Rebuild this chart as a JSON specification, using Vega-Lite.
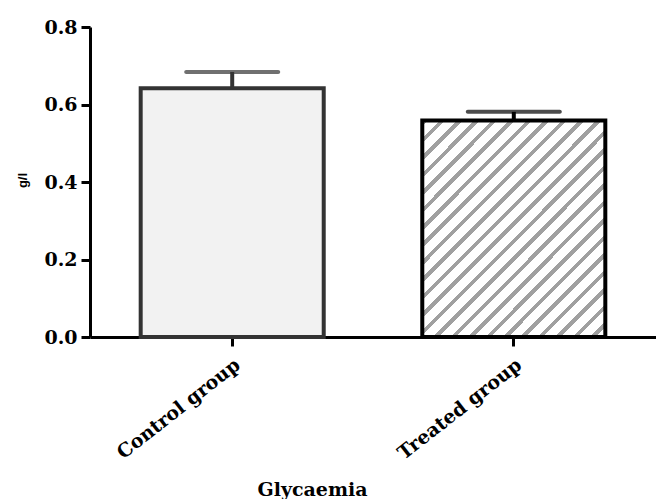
{
  "$schema": "https://vega.github.io/schema/vega-lite/v6.json",
  "width": 566,
  "height": 310,
  "autosize": "none",
  "padding": {"left": 90, "top": 27, "right": 0, "bottom": 162},
  "background": "#ffffff",
  "config": {"view": {"stroke": null}},
  "data": {
    "values": [
      {"group": "Control group", "mean": 0.642, "upper": 0.684},
      {"group": "Treated group", "mean": 0.559, "upper": 0.581}
    ]
  },
  "encoding": {
    "x": {
      "field": "group",
      "type": "nominal",
      "title": "Glycaemia",
      "scale": {"paddingInner": 0.35, "paddingOuter": 0.18},
      "axis": {
        "labelAngle": -38,
        "labelFont": "DejaVu Serif",
        "labelFontWeight": "bold",
        "labelFontSize": 19,
        "labelColor": "#000000",
        "labelPadding": 9,
        "domainColor": "#000000",
        "domainWidth": 3,
        "tickColor": "#000000",
        "tickWidth": 3,
        "tickSize": 9,
        "titleFont": "DejaVu Serif",
        "titleFontSize": 19,
        "titleFontWeight": "bold",
        "titleColor": "#000000",
        "titleX": 222,
        "titleY": 158,
        "titleAlign": "center",
        "titleBaseline": "alphabetic"
      }
    }
  },
  "layer": [
    {
      "transform": [{"filter": "datum.group === 'Control group'"}],
      "mark": {"type": "bar", "fill": "#f2f2f2", "stroke": "#333333", "strokeWidth": 4},
      "encoding": {
        "y": {
          "field": "mean",
          "type": "quantitative",
          "title": "g/l",
          "scale": {"domain": [0, 0.8], "nice": false, "zero": true},
          "axis": {
            "values": [0, 0.2, 0.4, 0.6, 0.8],
            "format": ".1f",
            "grid": false,
            "labelFlush": false,
            "labelOverlap": false,
            "domainColor": "#000000",
            "domainWidth": 3,
            "tickColor": "#000000",
            "tickWidth": 3,
            "tickSize": 9,
            "labelFont": "DejaVu Serif",
            "labelFontWeight": "bold",
            "labelFontSize": 19,
            "labelColor": "#000000",
            "labelPadding": 4,
            "titleFont": "Liberation Sans",
            "titleFontSize": 13,
            "titleFontWeight": "bold",
            "titleColor": "#000000",
            "titleAngle": -90,
            "titleX": -68,
            "titleY": 153,
            "titleAlign": "center",
            "titleBaseline": "middle"
          }
        }
      }
    },
    {
      "transform": [{"filter": "datum.group === 'Treated group'"}],
      "mark": {
        "type": "bar",
        "stroke": "#000000",
        "strokeWidth": 4,
        "fill": {
          "gradient": "linear",
          "x1": 0, "y1": 0, "x2": 0.915, "y2": 1.08,
          "stops": [
            {"offset": 0.0000, "color": "#a0a0a0"}, {"offset": 0.0139, "color": "#a0a0a0"}, {"offset": 0.0139, "color": "#ffffff"}, {"offset": 0.0435, "color": "#ffffff"},
            {"offset": 0.0435, "color": "#a0a0a0"}, {"offset": 0.0574, "color": "#a0a0a0"}, {"offset": 0.0574, "color": "#ffffff"}, {"offset": 0.0870, "color": "#ffffff"},
            {"offset": 0.0870, "color": "#a0a0a0"}, {"offset": 0.1009, "color": "#a0a0a0"}, {"offset": 0.1009, "color": "#ffffff"}, {"offset": 0.1304, "color": "#ffffff"},
            {"offset": 0.1304, "color": "#a0a0a0"}, {"offset": 0.1443, "color": "#a0a0a0"}, {"offset": 0.1443, "color": "#ffffff"}, {"offset": 0.1739, "color": "#ffffff"},
            {"offset": 0.1739, "color": "#a0a0a0"}, {"offset": 0.1878, "color": "#a0a0a0"}, {"offset": 0.1878, "color": "#ffffff"}, {"offset": 0.2174, "color": "#ffffff"},
            {"offset": 0.2174, "color": "#a0a0a0"}, {"offset": 0.2313, "color": "#a0a0a0"}, {"offset": 0.2313, "color": "#ffffff"}, {"offset": 0.2609, "color": "#ffffff"},
            {"offset": 0.2609, "color": "#a0a0a0"}, {"offset": 0.2748, "color": "#a0a0a0"}, {"offset": 0.2748, "color": "#ffffff"}, {"offset": 0.3043, "color": "#ffffff"},
            {"offset": 0.3043, "color": "#a0a0a0"}, {"offset": 0.3182, "color": "#a0a0a0"}, {"offset": 0.3182, "color": "#ffffff"}, {"offset": 0.3478, "color": "#ffffff"},
            {"offset": 0.3478, "color": "#a0a0a0"}, {"offset": 0.3617, "color": "#a0a0a0"}, {"offset": 0.3617, "color": "#ffffff"}, {"offset": 0.3913, "color": "#ffffff"},
            {"offset": 0.3913, "color": "#a0a0a0"}, {"offset": 0.4052, "color": "#a0a0a0"}, {"offset": 0.4052, "color": "#ffffff"}, {"offset": 0.4348, "color": "#ffffff"},
            {"offset": 0.4348, "color": "#a0a0a0"}, {"offset": 0.4487, "color": "#a0a0a0"}, {"offset": 0.4487, "color": "#ffffff"}, {"offset": 0.4783, "color": "#ffffff"},
            {"offset": 0.4783, "color": "#a0a0a0"}, {"offset": 0.4922, "color": "#a0a0a0"}, {"offset": 0.4922, "color": "#ffffff"}, {"offset": 0.5217, "color": "#ffffff"},
            {"offset": 0.5217, "color": "#a0a0a0"}, {"offset": 0.5356, "color": "#a0a0a0"}, {"offset": 0.5356, "color": "#ffffff"}, {"offset": 0.5652, "color": "#ffffff"},
            {"offset": 0.5652, "color": "#a0a0a0"}, {"offset": 0.5791, "color": "#a0a0a0"}, {"offset": 0.5791, "color": "#ffffff"}, {"offset": 0.6087, "color": "#ffffff"},
            {"offset": 0.6087, "color": "#a0a0a0"}, {"offset": 0.6226, "color": "#a0a0a0"}, {"offset": 0.6226, "color": "#ffffff"}, {"offset": 0.6522, "color": "#ffffff"},
            {"offset": 0.6522, "color": "#a0a0a0"}, {"offset": 0.6661, "color": "#a0a0a0"}, {"offset": 0.6661, "color": "#ffffff"}, {"offset": 0.6957, "color": "#ffffff"},
            {"offset": 0.6957, "color": "#a0a0a0"}, {"offset": 0.7096, "color": "#a0a0a0"}, {"offset": 0.7096, "color": "#ffffff"}, {"offset": 0.7391, "color": "#ffffff"},
            {"offset": 0.7391, "color": "#a0a0a0"}, {"offset": 0.7530, "color": "#a0a0a0"}, {"offset": 0.7530, "color": "#ffffff"}, {"offset": 0.7826, "color": "#ffffff"},
            {"offset": 0.7826, "color": "#a0a0a0"}, {"offset": 0.7965, "color": "#a0a0a0"}, {"offset": 0.7965, "color": "#ffffff"}, {"offset": 0.8261, "color": "#ffffff"},
            {"offset": 0.8261, "color": "#a0a0a0"}, {"offset": 0.8400, "color": "#a0a0a0"}, {"offset": 0.8400, "color": "#ffffff"}, {"offset": 0.8696, "color": "#ffffff"},
            {"offset": 0.8696, "color": "#a0a0a0"}, {"offset": 0.8835, "color": "#a0a0a0"}, {"offset": 0.8835, "color": "#ffffff"}, {"offset": 0.9130, "color": "#ffffff"},
            {"offset": 0.9130, "color": "#a0a0a0"}, {"offset": 0.9269, "color": "#a0a0a0"}, {"offset": 0.9269, "color": "#ffffff"}, {"offset": 0.9565, "color": "#ffffff"},
            {"offset": 0.9565, "color": "#a0a0a0"}, {"offset": 0.9704, "color": "#a0a0a0"}, {"offset": 0.9704, "color": "#ffffff"}, {"offset": 1.0000, "color": "#ffffff"}
          ]
        }
      },
      "encoding": {
        "y": {"field": "mean", "type": "quantitative"}
      }
    },
    {
      "mark": {"type": "rule", "strokeWidth": 4},
      "encoding": {
        "y": {"field": "mean", "type": "quantitative"},
        "y2": {"field": "upper"},
        "color": {"field": "group", "type": "nominal", "scale": {"range": ["#333333", "#000000"]}, "legend": null}
      }
    },
    {
      "mark": {"type": "tick", "thickness": 4, "size": 96, "cornerRadius": 2},
      "encoding": {
        "y": {"field": "upper", "type": "quantitative"},
        "color": {"field": "group", "type": "nominal", "legend": null}
      }
    }
  ]
}
